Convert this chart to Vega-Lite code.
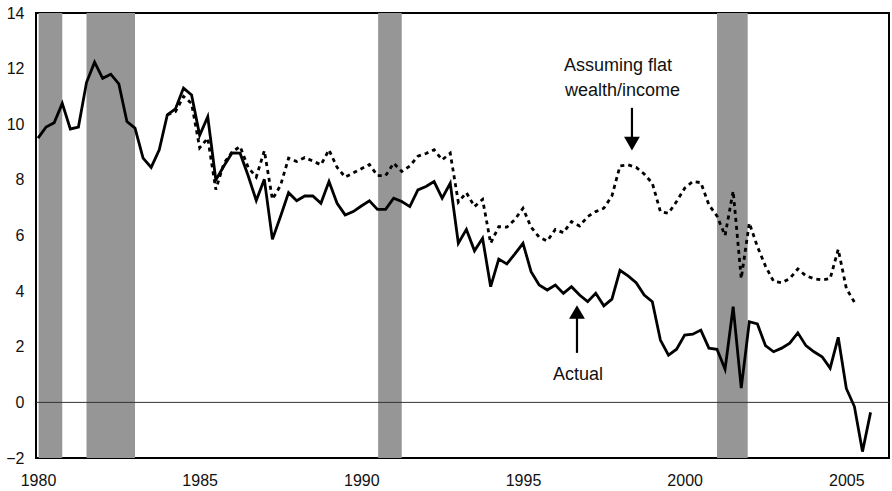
{
  "$schema": "https://vega.github.io/schema/vega-lite/v6.json",
  "width": 853,
  "height": 445,
  "autosize": {"type": "none"},
  "padding": {"left": 36, "top": 13, "right": 3, "bottom": 33},
  "background": "white",
  "config": {
    "view": {"stroke": "#000000", "strokeWidth": 2},
    "axis": {"labelFont": "Liberation Sans", "labelFontSize": 16, "labelColor": "#111111", "grid": false, "domain": false, "ticks": false}
  },
  "datasets": {
    "rec": [
      {"s": 1980.02, "e": 1980.75},
      {"s": 1981.5, "e": 1983.0},
      {"s": 1990.52, "e": 1991.25},
      {"s": 2001.0, "e": 2001.95}
    ],
    "zero": [{"v": 0}],
    "actual": [
      {"t": 1980.0, "v": 9.5}, {"t": 1980.25, "v": 9.9}, {"t": 1980.5, "v": 10.05}, {"t": 1980.75, "v": 10.75},
      {"t": 1981.0, "v": 9.83}, {"t": 1981.25, "v": 9.9}, {"t": 1981.5, "v": 11.5}, {"t": 1981.75, "v": 12.23},
      {"t": 1982.0, "v": 11.65}, {"t": 1982.25, "v": 11.8}, {"t": 1982.5, "v": 11.45}, {"t": 1982.75, "v": 10.1},
      {"t": 1983.0, "v": 9.86}, {"t": 1983.25, "v": 8.78}, {"t": 1983.5, "v": 8.45}, {"t": 1983.75, "v": 9.08},
      {"t": 1984.0, "v": 10.34}, {"t": 1984.25, "v": 10.55}, {"t": 1984.5, "v": 11.3}, {"t": 1984.75, "v": 11.05},
      {"t": 1985.0, "v": 9.6}, {"t": 1985.25, "v": 10.27}, {"t": 1985.5, "v": 8.0}, {"t": 1985.75, "v": 8.5},
      {"t": 1986.0, "v": 8.97}, {"t": 1986.25, "v": 8.96}, {"t": 1986.5, "v": 8.15}, {"t": 1986.75, "v": 7.26},
      {"t": 1987.0, "v": 8.02}, {"t": 1987.25, "v": 5.86}, {"t": 1987.5, "v": 6.68}, {"t": 1987.75, "v": 7.54},
      {"t": 1988.0, "v": 7.25}, {"t": 1988.25, "v": 7.42}, {"t": 1988.5, "v": 7.42}, {"t": 1988.75, "v": 7.16},
      {"t": 1989.0, "v": 7.94}, {"t": 1989.25, "v": 7.16}, {"t": 1989.5, "v": 6.74}, {"t": 1989.75, "v": 6.86},
      {"t": 1990.0, "v": 7.06}, {"t": 1990.25, "v": 7.25}, {"t": 1990.5, "v": 6.94}, {"t": 1990.75, "v": 6.94},
      {"t": 1991.0, "v": 7.34}, {"t": 1991.25, "v": 7.22}, {"t": 1991.5, "v": 7.04}, {"t": 1991.75, "v": 7.64},
      {"t": 1992.0, "v": 7.76}, {"t": 1992.25, "v": 7.94}, {"t": 1992.5, "v": 7.34}, {"t": 1992.75, "v": 7.88},
      {"t": 1993.0, "v": 5.72}, {"t": 1993.25, "v": 6.22}, {"t": 1993.5, "v": 5.45}, {"t": 1993.75, "v": 5.9},
      {"t": 1994.0, "v": 4.16}, {"t": 1994.25, "v": 5.15}, {"t": 1994.5, "v": 4.98}, {"t": 1994.75, "v": 5.34},
      {"t": 1995.0, "v": 5.72}, {"t": 1995.25, "v": 4.7}, {"t": 1995.5, "v": 4.22}, {"t": 1995.75, "v": 4.04},
      {"t": 1996.0, "v": 4.22}, {"t": 1996.25, "v": 3.92}, {"t": 1996.5, "v": 4.16}, {"t": 1996.75, "v": 3.86},
      {"t": 1997.0, "v": 3.62}, {"t": 1997.25, "v": 3.92}, {"t": 1997.5, "v": 3.47}, {"t": 1997.75, "v": 3.71},
      {"t": 1998.0, "v": 4.75}, {"t": 1998.25, "v": 4.55}, {"t": 1998.5, "v": 4.3}, {"t": 1998.75, "v": 3.86},
      {"t": 1999.0, "v": 3.62}, {"t": 1999.25, "v": 2.24}, {"t": 1999.5, "v": 1.7}, {"t": 1999.75, "v": 1.91},
      {"t": 2000.0, "v": 2.42}, {"t": 2000.25, "v": 2.45}, {"t": 2000.5, "v": 2.6}, {"t": 2000.75, "v": 1.95},
      {"t": 2001.0, "v": 1.91}, {"t": 2001.25, "v": 1.19}, {"t": 2001.5, "v": 3.44}, {"t": 2001.75, "v": 0.51},
      {"t": 2002.0, "v": 2.9}, {"t": 2002.25, "v": 2.82}, {"t": 2002.5, "v": 2.04}, {"t": 2002.75, "v": 1.82},
      {"t": 2003.0, "v": 1.95}, {"t": 2003.25, "v": 2.13}, {"t": 2003.5, "v": 2.5}, {"t": 2003.75, "v": 2.04},
      {"t": 2004.0, "v": 1.82}, {"t": 2004.25, "v": 1.64}, {"t": 2004.5, "v": 1.23}, {"t": 2004.75, "v": 2.34},
      {"t": 2005.0, "v": 0.5}, {"t": 2005.25, "v": -0.15}, {"t": 2005.5, "v": -1.77}, {"t": 2005.75, "v": -0.36}
    ],
    "flat": [
      {"t": 1984.0, "v": 10.34}, {"t": 1984.25, "v": 10.45}, {"t": 1984.5, "v": 11.0}, {"t": 1984.75, "v": 10.75},
      {"t": 1985.0, "v": 9.15}, {"t": 1985.25, "v": 9.5}, {"t": 1985.5, "v": 7.65}, {"t": 1985.75, "v": 8.6},
      {"t": 1986.0, "v": 9.0}, {"t": 1986.25, "v": 9.2}, {"t": 1986.5, "v": 8.45}, {"t": 1986.75, "v": 8.1},
      {"t": 1987.0, "v": 9.05}, {"t": 1987.25, "v": 7.3}, {"t": 1987.5, "v": 7.8}, {"t": 1987.75, "v": 8.78},
      {"t": 1988.0, "v": 8.66}, {"t": 1988.25, "v": 8.8}, {"t": 1988.5, "v": 8.68}, {"t": 1988.75, "v": 8.54},
      {"t": 1989.0, "v": 9.08}, {"t": 1989.25, "v": 8.45}, {"t": 1989.5, "v": 8.1}, {"t": 1989.75, "v": 8.25},
      {"t": 1990.0, "v": 8.4}, {"t": 1990.25, "v": 8.55}, {"t": 1990.5, "v": 8.15}, {"t": 1990.75, "v": 8.15},
      {"t": 1991.0, "v": 8.6}, {"t": 1991.25, "v": 8.3}, {"t": 1991.5, "v": 8.5}, {"t": 1991.75, "v": 8.85},
      {"t": 1992.0, "v": 8.95}, {"t": 1992.25, "v": 9.08}, {"t": 1992.5, "v": 8.72}, {"t": 1992.75, "v": 8.96},
      {"t": 1993.0, "v": 7.2}, {"t": 1993.25, "v": 7.54}, {"t": 1993.5, "v": 7.04}, {"t": 1993.75, "v": 7.3},
      {"t": 1994.0, "v": 5.72}, {"t": 1994.25, "v": 6.32}, {"t": 1994.5, "v": 6.3}, {"t": 1994.75, "v": 6.58},
      {"t": 1995.0, "v": 6.98}, {"t": 1995.25, "v": 6.3}, {"t": 1995.5, "v": 5.94}, {"t": 1995.75, "v": 5.8},
      {"t": 1996.0, "v": 6.22}, {"t": 1996.25, "v": 6.1}, {"t": 1996.5, "v": 6.5}, {"t": 1996.75, "v": 6.34},
      {"t": 1997.0, "v": 6.68}, {"t": 1997.25, "v": 6.86}, {"t": 1997.5, "v": 6.98}, {"t": 1997.75, "v": 7.42},
      {"t": 1998.0, "v": 8.5}, {"t": 1998.25, "v": 8.54}, {"t": 1998.5, "v": 8.45}, {"t": 1998.75, "v": 8.21},
      {"t": 1999.0, "v": 7.88}, {"t": 1999.25, "v": 6.86}, {"t": 1999.5, "v": 6.8}, {"t": 1999.75, "v": 7.22},
      {"t": 2000.0, "v": 7.7}, {"t": 2000.25, "v": 7.94}, {"t": 2000.5, "v": 7.9}, {"t": 2000.75, "v": 7.1},
      {"t": 2001.0, "v": 6.7}, {"t": 2001.25, "v": 6.0}, {"t": 2001.5, "v": 7.6}, {"t": 2001.75, "v": 4.45},
      {"t": 2002.0, "v": 6.45}, {"t": 2002.25, "v": 5.6}, {"t": 2002.5, "v": 4.9}, {"t": 2002.75, "v": 4.35},
      {"t": 2003.0, "v": 4.3}, {"t": 2003.25, "v": 4.45}, {"t": 2003.5, "v": 4.8}, {"t": 2003.75, "v": 4.55},
      {"t": 2004.0, "v": 4.45}, {"t": 2004.25, "v": 4.4}, {"t": 2004.5, "v": 4.45}, {"t": 2004.75, "v": 5.5},
      {"t": 2005.0, "v": 4.1}, {"t": 2005.25, "v": 3.6}
    ],
    "shafts": [
      {"t": 1998.37, "y1": 10.59, "y2": 9.45},
      {"t": 1996.67, "y1": 3.1, "y2": 1.78}
    ],
    "heads": [
      {"t": 1998.37, "v": 9.3, "shape": "triangle-down"},
      {"t": 1996.67, "v": 3.25, "shape": "triangle-up"}
    ],
    "labels": [
      {"t": 1996.27, "v": 11.93, "txt": "Assuming flat"},
      {"t": 1996.3, "v": 11.0, "txt": "wealth/income"},
      {"t": 1995.93, "v": 0.8, "txt": "Actual"}
    ]
  },
  "layer": [
    {
      "data": {"name": "rec"},
      "mark": {"type": "rect", "color": "#969696"},
      "encoding": {
        "x": {"field": "s", "type": "quantitative", "scale": {"domain": [1979.938, 2006.32], "nice": false, "zero": false},
              "axis": {"values": [1980, 1985, 1990, 1995, 2000, 2005], "format": "d", "title": null, "labelPadding": 14}},
        "x2": {"field": "e"}
      }
    },
    {
      "data": {"name": "zero"},
      "mark": {"type": "rule", "color": "#333333", "strokeWidth": 1},
      "encoding": {
        "y": {"field": "v", "type": "quantitative", "scale": {"domain": [-2, 14], "nice": false, "zero": false},
              "axis": {"values": [-2, 0, 2, 4, 6, 8, 10, 12, 14], "title": null, "labelPadding": 12}}
      }
    },
    {
      "data": {"name": "flat"},
      "mark": {"type": "line", "color": "#000000", "strokeWidth": 2.8, "strokeDash": [4, 4]},
      "encoding": {
        "x": {"field": "t", "type": "quantitative"},
        "y": {"field": "v", "type": "quantitative"}
      }
    },
    {
      "data": {"name": "actual"},
      "mark": {"type": "line", "color": "#000000", "strokeWidth": 2.8},
      "encoding": {
        "x": {"field": "t", "type": "quantitative"},
        "y": {"field": "v", "type": "quantitative"}
      }
    },
    {
      "data": {"name": "shafts"},
      "mark": {"type": "rule", "color": "#000000", "strokeWidth": 2.2},
      "encoding": {
        "x": {"field": "t", "type": "quantitative"},
        "y": {"field": "y1", "type": "quantitative"},
        "y2": {"field": "y2"}
      }
    },
    {
      "data": {"name": "heads"},
      "mark": {"type": "point", "filled": true, "color": "#000000", "opacity": 1, "size": 250},
      "encoding": {
        "x": {"field": "t", "type": "quantitative"},
        "y": {"field": "v", "type": "quantitative"},
        "shape": {"field": "shape", "type": "nominal", "scale": null}
      }
    },
    {
      "data": {"name": "labels"},
      "mark": {"type": "text", "font": "Liberation Sans", "fontSize": 18, "align": "left", "baseline": "alphabetic", "color": "#111111"},
      "encoding": {
        "x": {"field": "t", "type": "quantitative"},
        "y": {"field": "v", "type": "quantitative"},
        "text": {"field": "txt"}
      }
    }
  ]
}
